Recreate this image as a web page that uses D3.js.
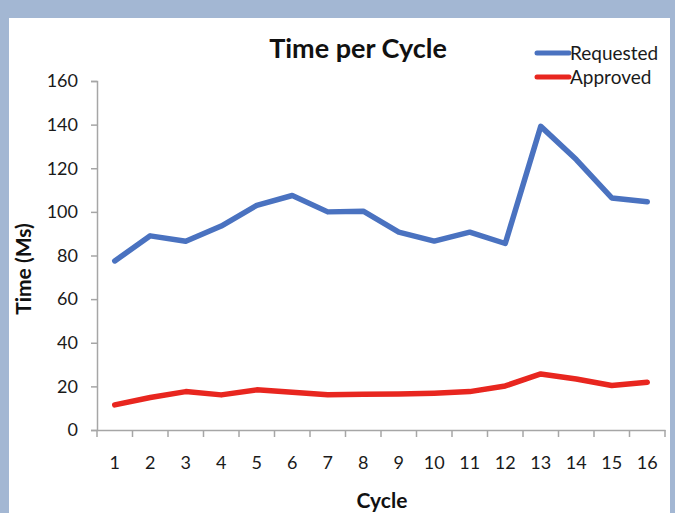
<!DOCTYPE html>
<html><head><meta charset="utf-8">
<script src="https://cdn.jsdelivr.net/npm/d3@7"></script>
<style>body{margin:0;background:#a3b7d3;}svg{display:block;}</style>
</head><body>
<script>
const cycles = ["1","2","3","4","5","6","7","8","9","10","11","12","13","14","15","16"];
const requested = [77.5, 89, 86.5, 93.5, 103, 107.5, 100, 100.3, 90.7, 86.6, 90.7, 85.5, 139.2, 124, 106.4, 104.6];
const approved = [11.5, 14.9, 17.6, 16.1, 18.4, 17.3, 16.2, 16.4, 16.5, 16.9, 17.6, 20.2, 25.7, 23.4, 20.4, 21.9];
const yTicks = [0, 20, 40, 60, 80, 100, 120, 140, 160];
const seriesNames = ["Requested", "Approved"];
const seriesColors = ["#4a72c0", "#e8261f"];

const W = 675, H = 513;
const svg = d3.select("body").append("svg").attr("width", W).attr("height", H);
svg.append("rect").attr("x", 0).attr("y", 0).attr("width", W).attr("height", H).attr("fill", "#a3b7d3");
svg.append("rect").attr("x", 9).attr("y", 18).attr("width", 661).attr("height", H).attr("fill", "#ffffff");

const font = "Lato, 'Open Sans', sans-serif";
const x = d3.scaleBand().domain(cycles).range([97, 665]);
const y = d3.scaleLinear().domain([0, 160]).range([430, 81]);

// y axis
const yAxis = svg.append("g").attr("transform", "translate(97,0)")
  .call(d3.axisLeft(y).tickValues(yTicks).tickSize(6).tickPadding(13));
yAxis.select(".domain").attr("stroke", "#a6a6a6").attr("stroke-width", 1.5);
yAxis.selectAll(".tick line").attr("stroke", "#a6a6a6").attr("stroke-width", 1.5);
yAxis.selectAll(".tick text").attr("font-family", font).attr("font-size", 18).attr("fill", "#1a1a1a");

// x axis
const xAxis = svg.append("g").attr("transform", "translate(0,430)")
  .call(d3.axisBottom(x).tickSize(0).tickPadding(26));
xAxis.select(".domain").attr("stroke", "#a6a6a6").attr("stroke-width", 1.5);
xAxis.selectAll(".tick text").attr("font-family", font).attr("font-size", 18).attr("fill", "#1a1a1a");
// category boundary ticks
const bounds = cycles.map(c => x(c)).concat([x(cycles[cycles.length-1]) + x.bandwidth()]);
xAxis.selectAll(".btick").data(bounds).enter().append("line")
  .attr("x1", d => d).attr("x2", d => d).attr("y1", 0).attr("y2", 7)
  .attr("stroke", "#a6a6a6").attr("stroke-width", 1.5);

// lines
const line = d3.line().x((d, i) => x(cycles[i]) + x.bandwidth() / 2).y(d => y(d));
[requested, approved].forEach((data, k) => {
  svg.append("path").datum(data).attr("d", line).attr("fill", "none")
    .attr("stroke", seriesColors[k]).attr("stroke-width", 5.5)
    .attr("stroke-linejoin", "round").attr("stroke-linecap", "round");
});

// title
svg.append("text").attr("x", 358).attr("y", 58).attr("text-anchor", "middle")
  .attr("font-family", font).attr("font-weight", "bold").attr("font-size", 27).attr("fill", "#111")
  .text("Time per Cycle");

// axis titles
svg.append("text").attr("transform", "translate(31,269) rotate(-90)").attr("text-anchor", "middle")
  .attr("font-family", font).attr("font-weight", "bold").attr("font-size", 21).attr("fill", "#111")
  .text("Time (Ms)");
svg.append("text").attr("x", 382).attr("y", 508).attr("text-anchor", "middle")
  .attr("font-family", font).attr("font-weight", "bold").attr("font-size", 21).attr("fill", "#111")
  .text("Cycle");

// legend
const leg = svg.append("g");
seriesNames.forEach((name, k) => {
  const ly = 53 + k * 24;
  leg.append("line").attr("x1", 537).attr("x2", 569).attr("y1", ly).attr("y2", ly)
    .attr("stroke", seriesColors[k]).attr("stroke-width", 5).attr("stroke-linecap", "round");
  leg.append("text").attr("x", 570).attr("y", ly + 7).attr("font-family", font)
    .attr("font-size", 19).attr("fill", "#1a1a1a").text(name);
});
</script>
</body></html>
